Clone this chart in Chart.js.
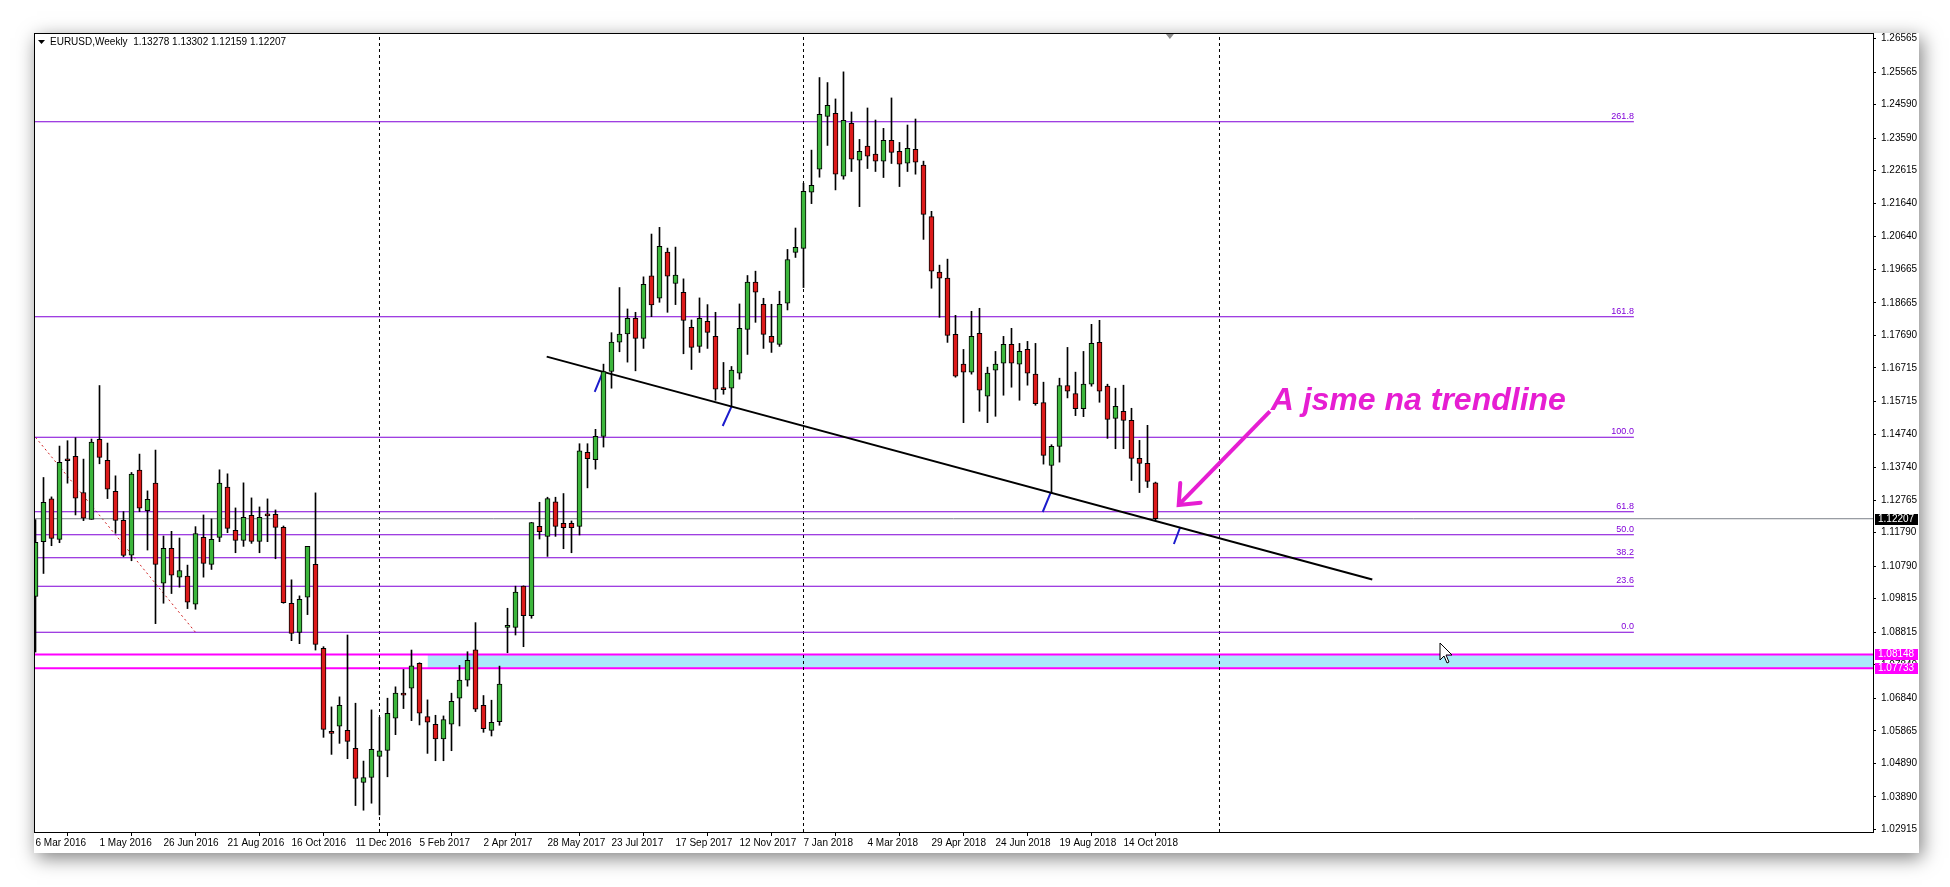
<!DOCTYPE html>
<html>
<head>
<meta charset="utf-8">
<script src="https://cdn.jsdelivr.net/npm/chart.js@4.4.0/dist/chart.umd.min.js"></script>
<style>
  html, body { margin: 0; padding: 0; background: #fff; }
  canvas { display: block; }
</style>
</head>
<body>
<canvas id="myChart" width="1950" height="887"></canvas>
<script>
// weekly EURUSD bars, index 0 = week of 6 Mar 2016
const opens = [1.0988,1.1152,1.1280,1.1159,1.1396,1.1407,1.1299,1.1219,1.1458,1.1395,
  1.1303,1.1216,1.1112,1.1366,1.1245,1.1327,1.1028,1.1132,1.1046,1.1049,
  1.0965,1.1165,1.1084,1.1165,1.1315,1.1186,1.1156,1.1231,1.1153,1.1230,
  1.1234,1.1195,1.0968,1.0881,1.0986,1.1084,1.0833,1.0585,1.0600,1.0588,
  1.0534,1.0432,1.0447,1.0510,1.0528,1.0624,1.0694,1.0714,1.0788,1.0629,
  1.0606,1.0562,1.0606,1.0684,1.0738,1.0829,1.0663,1.0588,1.0614,1.0896,
  1.0896,1.1019,1.0931,1.1198,1.1168,1.1271,1.1207,1.1207,1.1198,1.1419,
  1.1397,1.1467,1.1661,1.1749,1.1773,1.1820,1.1760,1.1947,1.1880,1.2018,
  1.1924,1.1898,1.1793,1.1736,1.1811,1.1766,1.1608,1.1611,1.1656,1.1787,
  1.1928,1.1862,1.1766,1.1742,1.1865,1.2017,1.2029,1.2197,1.2266,1.2424,
  1.2433,1.2245,1.2403,1.2293,1.2335,1.2311,1.2290,1.2352,1.2319,1.2284,
  1.2325,1.2278,1.2124,1.1958,1.1940,1.1772,1.1683,1.1659,1.1775,1.1587,
  1.1665,1.1686,1.1742,1.1683,1.1727,1.1653,1.1568,1.1380,1.1437,1.1619,
  1.1595,1.1550,1.1623,1.1748,1.1617,1.1521,1.1542,1.1515,1.1401,1.1386,
  1.13278];
const highs = [1.1218,1.1344,1.1286,1.1438,1.1454,1.1463,1.1399,1.1459,1.1619,1.1447,
  1.1349,1.1242,1.1359,1.1414,1.1304,1.1426,1.1169,1.1183,1.1163,1.1082,
  1.1197,1.1232,1.1220,1.1367,1.1355,1.1253,1.1328,1.1283,1.1256,1.1280,
  1.1247,1.1199,1.1038,1.0990,1.1138,1.1298,1.0838,1.0658,1.0688,1.0873,
  1.0669,1.0496,1.0649,1.0627,1.0684,1.0718,1.0770,1.0828,1.0790,1.0679,
  1.0633,1.0631,1.0699,1.0782,1.0823,1.0910,1.0692,1.0678,1.0780,1.0953,
  1.1019,1.1020,1.1210,1.1270,1.1285,1.1285,1.1296,1.1214,1.1445,1.1445,
  1.1488,1.1683,1.1777,1.1912,1.1848,1.1838,1.1944,1.2072,1.2092,1.2030,
  1.2033,1.1938,1.1815,1.1881,1.1861,1.1838,1.1688,1.1676,1.1863,1.1948,
  1.1961,1.1880,1.1862,1.1901,1.2026,1.2090,1.2224,1.2323,1.2540,1.2525,
  1.2476,1.2557,1.2437,1.2355,1.2449,1.2413,1.2388,1.2479,1.2346,1.2398,
  1.2416,1.2290,1.2140,1.1979,1.1997,1.1829,1.1727,1.1841,1.1850,1.1674,
  1.1721,1.1766,1.1790,1.1745,1.1751,1.1745,1.1629,1.1442,1.1641,1.1733,
  1.1659,1.1721,1.1802,1.1814,1.1623,1.1611,1.1620,1.1551,1.1455,1.1500,
  1.13302];
const lows = [1.0822,1.1057,1.1140,1.1149,1.1327,1.1232,1.1215,1.1219,1.1385,1.1281,
  1.1177,1.1107,1.1095,1.1242,1.1127,1.0907,1.0968,1.0997,1.1016,1.0952,
  1.0950,1.1046,1.1069,1.1152,1.1179,1.1119,1.1138,1.1147,1.1119,1.1152,
  1.1101,1.0968,1.0856,1.0847,1.0934,1.0828,1.0567,1.0516,1.0549,1.0503,
  1.0363,1.0349,1.0370,1.0335,1.0449,1.0575,1.0653,1.0617,1.0604,1.0519,
  1.0497,1.0497,1.0527,1.0601,1.0720,1.0644,1.0582,1.0571,1.0603,1.0820,
  1.0873,1.0838,1.0923,1.1160,1.1108,1.1168,1.1131,1.1119,1.1172,1.1313,
  1.1369,1.1435,1.1611,1.1720,1.1689,1.1663,1.1730,1.1825,1.1868,1.1838,
  1.1861,1.1714,1.1667,1.1718,1.1730,1.1575,1.1593,1.1556,1.1638,1.1712,
  1.1808,1.1730,1.1718,1.1736,1.1845,1.2002,1.1912,1.2163,1.2242,1.2337,
  1.2204,1.2236,1.2259,1.2154,1.2268,1.2259,1.2241,1.2283,1.2214,1.2259,
  1.2251,1.2056,1.1910,1.1823,1.1748,1.1644,1.1508,1.1653,1.1542,1.1508,
  1.1527,1.1590,1.1614,1.1575,1.1620,1.1560,1.1384,1.1297,1.1390,1.1582,
  1.1529,1.1526,1.1617,1.1569,1.1461,1.1430,1.1430,1.1335,1.1299,1.1314,
  1.12159];
const closes = [1.1150,1.1270,1.1162,1.1389,1.1394,1.1282,1.1222,1.1450,1.1404,1.1309,
  1.1216,1.1111,1.1354,1.1252,1.1279,1.1084,1.1132,1.1052,1.1066,1.0971,
  1.1176,1.1087,1.1159,1.1327,1.1192,1.1156,1.1225,1.1153,1.1225,1.1229,
  1.1195,1.0970,1.0878,1.0980,1.1138,1.0845,1.0591,1.0579,1.0663,1.0555,
  1.0444,1.0447,1.0531,1.0527,1.0639,1.0699,1.0693,1.0781,1.0639,1.0612,
  1.0562,1.0620,1.0675,1.0738,1.0797,1.0651,1.0593,1.0612,1.0726,1.0897,
  1.1001,1.0931,1.1209,1.1182,1.1281,1.1198,1.1194,1.1194,1.1424,1.1400,
  1.1467,1.1661,1.1749,1.1773,1.1820,1.1760,1.1922,1.1860,1.2035,1.1946,
  1.1949,1.1814,1.1733,1.1820,1.1778,1.1608,1.1607,1.1665,1.1790,1.1928,
  1.1898,1.1772,1.1748,1.1862,1.1996,1.2032,1.2200,1.2218,1.2430,1.2457,
  1.2251,1.2412,1.2296,1.2319,1.2305,1.2290,1.2352,1.2316,1.2281,1.2328,
  1.2287,1.2131,1.1961,1.1940,1.1769,1.1647,1.1659,1.1766,1.1605,1.1656,
  1.1683,1.1742,1.1686,1.1721,1.1656,1.1565,1.1410,1.1437,1.1619,1.1602,
  1.1550,1.1623,1.1745,1.1602,1.1518,1.1557,1.1515,1.1401,1.1386,1.1332,
  1.12207];

// time axis labels, one every 8 bars
const dateLabels = ["6 Mar 2016","1 May 2016","26 Jun 2016","21 Aug 2016","16 Oct 2016",
  "11 Dec 2016","5 Feb 2017","2 Apr 2017","28 May 2017","23 Jul 2017","17 Sep 2017",
  "12 Nov 2017","7 Jan 2018","4 Mar 2018","29 Apr 2018","24 Jun 2018","19 Aug 2018","14 Oct 2018"];
const dateTickIdx = dateLabels.map((d, i) => i * 8);
const priceTicks = [1.26565,1.25565,1.24590,1.23590,1.22615,1.21640,1.20640,1.19665,1.18665,
  1.17690,1.16715,1.15715,1.14740,1.13740,1.12765,1.11790,1.10790,1.09815,1.08815,1.07840,
  1.06840,1.05865,1.04890,1.03890,1.02915];

// drawn objects
const fibLevels = [0.0, 23.6, 38.2, 50.0, 61.8, 100.0, 161.8, 261.8];
const fibLow = 1.08811, fibHigh = 1.14642;
const fibBase = [{x: 0, y: fibHigh}, {x: 20, y: fibLow}];
const fibEnd = 199.8;
const zoneTop = 1.08148, zoneBottom = 1.07733, zoneStart = 49;
const lastPrice = 1.12207;
const trendline = [{x: 63.9, y: 1.17055}, {x: 167.1, y: 1.10387}];
const touchMarks = [
  [{x: 69.9, y: 1.16003}, {x: 70.9, y: 1.16580}],
  [{x: 85.9, y: 1.14980}, {x: 87.0, y: 1.15557}],
  [{x: 125.9, y: 1.12408}, {x: 126.9, y: 1.12985}],
  [{x: 142.3, y: 1.11451}, {x: 143.1, y: 1.11960}]
];
const separators = [43, 96, 148];
const arrowLine = [{x: 154.3, y: 1.15420}, {x: 142.9, y: 1.12620}];
const noteText = "A jsme na trendline";
const notePos = {x: 154.4, y: 1.15460};
const headerText = "EURUSD,Weekly  1.13278 1.13302 1.12159 1.12207";

const X_MIN = -0.1875, X_MAX = 229.69;
const Y_MIN = 1.02839, Y_MAX = 1.26732;

const GREEN = '#3cb63c', RED = '#dc1a1a', FIB = '#8000d8', MAGENTA = '#ff00ff';

const idx = opens.map((o, i) => i);
const bodies = idx.map(i => ({x: i, y: [opens[i], closes[i]]}));
const wicks = idx.map(i => ({x: i, y: [lows[i], highs[i]]}));
const bodyColors = idx.map(i => closes[i] >= opens[i] ? GREEN : RED);

function hline(y, x0, x1) { return [{x: x0, y: y}, {x: x1, y: y}]; }
function joinSegments(segs) {
  const out = [];
  segs.forEach((s, k) => { if (k) out.push({x: s[0].x, y: null}); out.push(...s); });
  return out;
}
const lineBase = {type: 'line', pointRadius: 0, borderWidth: 1, fill: false, tension: 0, spanGaps: false};

const fibSegs = fibLevels.map(l => hline(fibLow + (fibHigh - fibLow) * l / 100, X_MIN, fibEnd));
const sepSegs = separators.map(s => [{x: s, y: Y_MIN}, {x: s, y: Y_MAX}]);

const datasets = [
  {type: 'bar', data: bodies, backgroundColor: bodyColors, borderColor: '#000', borderWidth: 1,
   borderSkipped: false, barThickness: 5, minBarLength: 2, grouped: false, order: 1},
  {type: 'bar', data: wicks, backgroundColor: '#000', borderWidth: 0,
   barThickness: 1, grouped: false, order: 2},
  {...lineBase, data: trendline, borderColor: '#000', borderWidth: 2, order: 3},
  {...lineBase, data: joinSegments(touchMarks), borderColor: '#1c1ccc', borderWidth: 2, order: 3},
  {...lineBase, data: arrowLine, borderColor: '#e61ed2', borderWidth: 4, order: 3},
  {...lineBase, data: hline(lastPrice, X_MIN, X_MAX), borderColor: '#7d828a', order: 4},
  {...lineBase, data: joinSegments(fibSegs), borderColor: FIB, borderWidth: 1.1, order: 5},
  {...lineBase, data: fibBase, borderColor: '#d02020', borderDash: [2, 3], order: 5},
  {...lineBase, data: joinSegments(sepSegs), borderColor: '#000', borderDash: [3, 3], order: 6},
  {...lineBase, data: joinSegments([hline(zoneTop, X_MIN, X_MAX), hline(zoneBottom, X_MIN, X_MAX)]),
   borderColor: MAGENTA, borderWidth: 2, order: 6},
  {...lineBase, data: hline(zoneTop, zoneStart, X_MAX), borderWidth: 0,
   fill: {value: zoneBottom}, backgroundColor: 'rgb(170,234,250)', order: 7}
];

const decorPlugin = {
  id: 'decor',
  beforeDraw(chart) {
    const c = chart.ctx, a = chart.chartArea;
    c.save();
    c.fillStyle = '#fff';
    c.fillRect(0, 0, chart.width, chart.height);
    c.shadowColor = 'rgba(0,0,0,0.5)';
    c.shadowBlur = 18;
    c.shadowOffsetX = 3;
    c.shadowOffsetY = 5;
    c.fillRect(a.left, a.top, 1919 - a.left, 853 - a.top);
    c.restore();
  },
  afterDatasetsDraw(chart) {
    const c = chart.ctx, a = chart.chartArea;
    const xs = chart.scales.x, ys = chart.scales.y;
    c.save();
    // frame
    c.strokeStyle = '#000';
    c.lineWidth = 1;
    c.strokeRect(a.left + 0.5, a.top + 0.5, a.right - a.left, a.bottom - a.top);

    // header
    c.fillStyle = '#000';
    c.beginPath();
    c.moveTo(38, 40); c.lineTo(45, 40); c.lineTo(41.5, 44); c.closePath(); c.fill();
    c.font = '10px "Liberation Sans", Arial, sans-serif';
    c.textBaseline = 'alphabetic';
    c.fillText(headerText, 50, 45);

    // chart shift marker
    c.fillStyle = '#8c8c8c';
    const sx = xs.getPixelForValue(141.8);
    c.beginPath();
    c.moveTo(sx - 4, a.top + 1); c.lineTo(sx + 4, a.top + 1); c.lineTo(sx, a.top + 6); c.closePath(); c.fill();

    // fib labels
    c.fillStyle = FIB;
    c.font = '9px "Liberation Sans", Arial, sans-serif';
    c.textAlign = 'right';
    const fx = xs.getPixelForValue(fibEnd);
    fibLevels.forEach(l => {
      const y = ys.getPixelForValue(fibLow + (fibHigh - fibLow) * l / 100);
      c.fillText(l.toFixed(1), fx, y - 3);
    });

    // arrow head
    const p1 = {x: xs.getPixelForValue(arrowLine[0].x), y: ys.getPixelForValue(arrowLine[0].y)};
    const p2 = {x: xs.getPixelForValue(arrowLine[1].x), y: ys.getPixelForValue(arrowLine[1].y)};
    const ang = Math.atan2(p1.y - p2.y, p1.x - p2.x);
    c.strokeStyle = '#e61ed2';
    c.lineWidth = 4;
    c.lineCap = 'round';
    c.beginPath();
    c.moveTo(p2.x + 22 * Math.cos(ang - 0.7), p2.y + 22 * Math.sin(ang - 0.7));
    c.lineTo(p2.x, p2.y);
    c.lineTo(p2.x + 22 * Math.cos(ang + 0.7), p2.y + 22 * Math.sin(ang + 0.7));
    c.stroke();

    // note
    c.fillStyle = '#e61ed2';
    c.textAlign = 'left';
    c.font = 'italic bold 32px "Liberation Sans", Arial, sans-serif';
    c.fillText(noteText, xs.getPixelForValue(notePos.x), ys.getPixelForValue(notePos.y));

    // mouse pointer
    const mx = 1440, my = 643;
    c.beginPath();
    c.moveTo(mx, my); c.lineTo(mx, my + 17); c.lineTo(mx + 4, my + 13); c.lineTo(mx + 7, my + 20);
    c.lineTo(mx + 9, my + 19); c.lineTo(mx + 6, my + 12); c.lineTo(mx + 12, my + 12); c.closePath();
    c.fillStyle = '#fff'; c.fill();
    c.strokeStyle = '#000'; c.lineWidth = 1; c.lineCap = 'butt'; c.stroke();
    c.restore();
  },
  afterDraw(chart) {
    const c = chart.ctx, a = chart.chartArea, ys = chart.scales.y;
    c.save();
    c.font = '10px "Liberation Sans", Arial, sans-serif';
    c.textBaseline = 'middle';
    c.textAlign = 'left';
    [[lastPrice, '#000'], [zoneTop, MAGENTA], [zoneBottom, MAGENTA]].forEach(([v, col]) => {
      const y = Math.round(ys.getPixelForValue(v));
      c.fillStyle = col;
      c.fillRect(a.right + 2, y - 5, 43, 11);
      c.fillStyle = '#fff';
      c.fillText(v.toFixed(5), a.right + 5, y + 0.5);
    });
    c.restore();
  }
};

const ctx = document.getElementById('myChart').getContext('2d');
const myChart = new Chart(ctx, {
  type: 'bar',
  data: {datasets},
  options: {
    responsive: false,
    animation: false,
    devicePixelRatio: 1,
    events: [],
    layout: {padding: {left: 34, top: 33, right: 31, bottom: 34}},
    plugins: {legend: {display: false}, tooltip: {enabled: false}},
    scales: {
      x: {
        type: 'linear', offset: false, min: X_MIN, max: X_MAX,
        grid: {drawOnChartArea: false, drawTicks: true, tickLength: 4, color: '#000'},
        border: {display: true, color: '#000'},
        afterBuildTicks: s => { s.ticks = dateTickIdx.map(v => ({value: v})); },
        afterFit: s => { s.height = 21; },
        ticks: {
          autoSkip: false, maxRotation: 0, align: 'start', padding: 1, color: '#000',
          font: {family: '"Liberation Sans", Arial, sans-serif', size: 10},
          callback: (v, i) => dateLabels[i]
        }
      },
      y: {
        position: 'right', min: Y_MIN, max: Y_MAX,
        grid: {drawOnChartArea: false, drawTicks: true, tickLength: 3, color: '#000'},
        border: {display: true, color: '#000'},
        afterBuildTicks: s => { s.ticks = priceTicks.map(v => ({value: v})); },
        afterFit: s => { s.width = 46; },
        ticks: {
          padding: 5, color: '#000',
          font: {family: '"Liberation Sans", Arial, sans-serif', size: 10},
          callback: v => v.toFixed(5)
        }
      }
    }
  },
  plugins: [decorPlugin]
});
</script>
</body>
</html>
